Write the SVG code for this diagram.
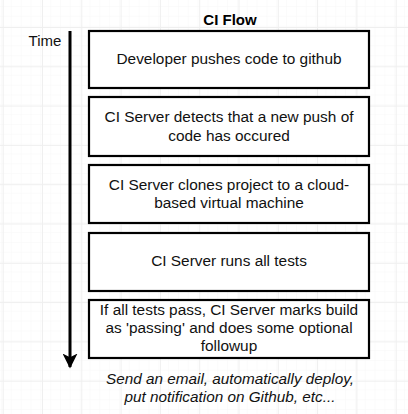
<svg xmlns="http://www.w3.org/2000/svg" width="408" height="414" viewBox="0 0 408 414">
<style>
.box{fill:#fff;stroke:#000;stroke-width:2.2}
.t{font-family:"Liberation Sans",Arial,sans-serif;font-size:15.4px;fill:#111;text-anchor:middle}
.title{font-family:"Liberation Sans",Arial,sans-serif;font-size:15px;font-weight:bold;fill:#000;text-anchor:middle}
.it{font-family:"Liberation Sans",Arial,sans-serif;font-size:15.3px;font-style:italic;fill:#111;text-anchor:middle}
</style>
<defs>
<pattern id="minor" x="2" y="7" width="9.83" height="9.83" patternUnits="userSpaceOnUse">
<path d="M9.83 0V9.83H0" fill="none" stroke="#f7f7f7" stroke-width="1"/>
</pattern>
<pattern id="major" x="2.7" y="27" width="39.3" height="39.3" patternUnits="userSpaceOnUse">
<path d="M0 0.5H39.3M0.5 0V39.3" fill="none" stroke="#efefef" stroke-width="1"/>
</pattern>
<marker id="ah" viewBox="0 0 10 10" refX="9" refY="5" markerWidth="5" markerHeight="5" orient="auto" markerUnits="strokeWidth">
<path d="M0 0L10 5L0 10L2.5 5Z" fill="#000"/>
</marker>
</defs>
<rect width="408" height="414" fill="#fff"/>
<rect width="408" height="414" fill="url(#minor)"/>
<rect width="408" height="414" fill="url(#major)"/>

<text class="title" x="230" y="25">CI Flow</text>
<text class="t" x="45" y="46" style="font-size:15px">Time</text>

<g id="connectors">
<line x1="70" y1="31" x2="70" y2="367" stroke="#000" stroke-width="3" marker-end="url(#ah)"/>
</g>

<g id="n1">
<rect class="box" x="89" y="31" width="280" height="57"/>
<text class="t" x="229" y="64">Developer pushes code to github</text>
</g>
<g id="n2">
<rect class="box" x="89" y="97" width="280" height="59"/>
<text class="t" x="229" y="122">CI Server detects that a new push of</text>
<text class="t" x="229" y="141">code has occured</text>
</g>
<g id="n3">
<rect class="box" x="89" y="165" width="280" height="58"/>
<text class="t" x="229" y="190">CI Server clones project to a cloud-</text>
<text class="t" x="229" y="208">based virtual machine</text>
</g>
<g id="n4">
<rect class="box" x="89" y="233" width="280" height="58"/>
<text class="t" x="229" y="266">CI Server runs all tests</text>
</g>
<g id="n5">
<rect class="box" x="89" y="300" width="280" height="58"/>
<text class="t" x="229" y="315">If all tests pass, CI Server marks build</text>
<text class="t" x="229" y="333">as 'passing' and does some optional</text>
<text class="t" x="229" y="351">followup</text>
</g>
<g id="note">
<text class="it" x="230" y="384">Send an email, automatically deploy,</text>
<text class="it" x="230" y="402">put notification on Github, etc...</text>
</g>
</svg>
